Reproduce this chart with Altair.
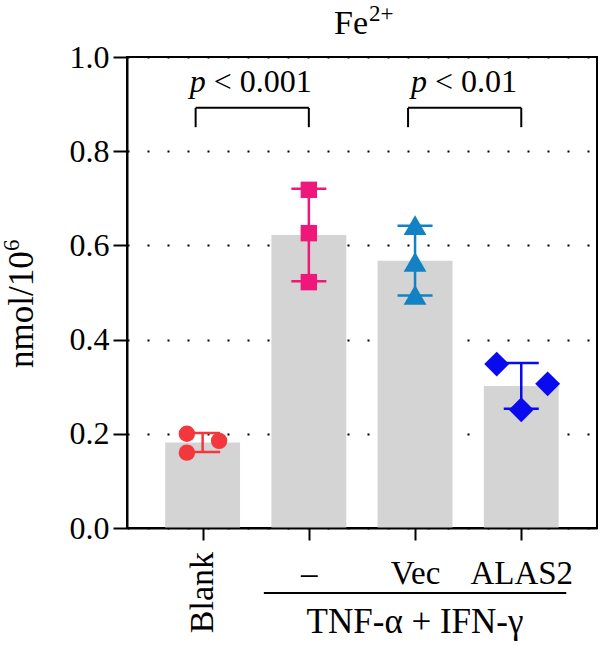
import json
import altair as alt
import pandas as pd

# Groups on the x axis and the three replicate measurements of each
groups = ["Blank", "–", "Vec", "ALAS2"]
values_blank = [0.200, 0.185, 0.160]
values_tnf = [0.718, 0.626, 0.522]
values_vec = [0.643, 0.565, 0.495]
values_alas2 = [0.348, 0.306, 0.251]

# Horizontal scatter of the replicate points inside a bar (-1..1 = bar edges)
jitter_blank = [-0.43, 0.45, -0.43]
jitter_tnf = [0.0, 0.0, 0.0]
jitter_vec = [0.0, 0.0, 0.0]
jitter_alas2 = [-0.67, 0.72, 0.0]

# Marker styling per group
colors = ["#F2383D", "#F0177A", "#1282C4", "#0A0AEE"]
shapes = ["circle", "square", "triangle-up", "diamond"]
sizes = [270, 270, 520, 620]

# Significance brackets
bracket_left = ["Blank", "Vec"]
bracket_right = ["–", "ALAS2"]
bracket_text = ["< 0.001", "< 0.01"]
bracket_top = 0.892
bracket_leg = 0.851
bracket_text_y = 0.925

FONT = "Liberation Serif"
FS = 32
BAR_FRAC = 0.69          # bar width as a fraction of the category step
STEP_PX = 108.5          # category step in pixels (470 px wide plot)

rows = []
for g, vals, jit in zip(groups,
                        [values_blank, values_tnf, values_vec, values_alas2],
                        [jitter_blank, jitter_tnf, jitter_vec, jitter_alas2]):
    for v, j in zip(vals, jit):
        rows.append({"group": g, "value": v, "jitter": j})
points = pd.DataFrame(rows)

groups_js = json.dumps(groups, ensure_ascii=False)
idx_expr = f"indexof({groups_js}, datum.group)"

x_scale = alt.Scale(domain=[-0.665, 3.666], nice=False, zero=False)
y_scale = alt.Scale(domain=[0, 1], nice=False)
color_enc = alt.Color("group:N", scale=alt.Scale(domain=groups, range=colors), legend=None)

x_axis = alt.Axis(
    title=None, values=[0, 1, 2, 3], labelAngle=0, labelFontSize=33, labelPadding=17,
    tickSize=12, grid=False, zindex=1,
    labelExpr=f"datum.value == 0 ? '' : {groups_js}[datum.value]",
)
y_axis = alt.Axis(
    title=None, values=[0, 0.2, 0.4, 0.6, 0.8, 1.0], format=".1f",
    tickSize=14, labelPadding=4, labelFontSize=FS,
    grid=True, gridColor="black", gridDash=[2, 18], gridWidth=2.2,
)

base = alt.Chart(points).transform_calculate(idx=idx_expr)

bars = base.mark_bar(color="#D4D4D4", width=BAR_FRAC * STEP_PX).encode(
    x=alt.X("idx:Q", scale=x_scale, axis=x_axis),
    y=alt.Y("mean(value):Q", scale=y_scale, axis=y_axis),
)

stats = base.transform_aggregate(
    mean="mean(value)", sd="stdev(value)", groupby=["group", "idx"]
).transform_calculate(
    lo="datum.mean - datum.sd", hi="datum.mean + datum.sd"
)

err_line = stats.mark_rule(strokeWidth=2.5).encode(
    x=alt.X("idx:Q", title=None),
    y=alt.Y("lo:Q", title=None),
    y2="hi:Q",
    color=color_enc,
)
cap_lo = stats.mark_tick(size=35, thickness=2.5, opacity=1, orient="horizontal").encode(
    x=alt.X("idx:Q", title=None),
    y=alt.Y("lo:Q", title=None),
    color=color_enc,
)
cap_hi = stats.mark_tick(size=35, thickness=2.5, opacity=1, orient="horizontal").encode(
    x=alt.X("idx:Q", title=None),
    y=alt.Y("hi:Q", title=None),
    color=color_enc,
)

# Replicate points, one layer per group so each keeps its own marker
dot_layers = []
for g, col, shp, sz in zip(groups, colors, shapes, sizes):
    dot_layers.append(
        base.transform_filter(alt.datum.group == g).transform_calculate(
            xpos=f"datum.idx + datum.jitter * {BAR_FRAC / 2}"
        ).mark_point(filled=True, opacity=1, strokeWidth=0, color=col, shape=shp, size=sz).encode(
            x=alt.X("xpos:Q", title=None),
            y=alt.Y("value:Q", title=None),
        )
    )

brackets = pd.DataFrame({
    "left": bracket_left, "right": bracket_right, "label": bracket_text,
    "top": [bracket_top] * 2, "leg": [bracket_leg] * 2, "ty": [bracket_text_y] * 2,
})
bc = alt.Chart(brackets).transform_calculate(
    li=f"indexof({groups_js}, datum.left)", ri=f"indexof({groups_js}, datum.right)"
)
br_h = bc.mark_rule(color="black", strokeWidth=2, xOffset=-7).encode(
    x=alt.X("li:Q", title=None), x2="ri:Q", y=alt.Y("top:Q", title=None)
)
br_l = bc.mark_rule(color="black", strokeWidth=2, xOffset=-7).encode(
    x=alt.X("li:Q", title=None), y=alt.Y("leg:Q", title=None), y2="top:Q"
)
br_r = bc.mark_rule(color="black", strokeWidth=2).encode(
    x=alt.X("ri:Q", title=None), y=alt.Y("leg:Q", title=None), y2="top:Q"
)

text_layers = []
for lbl, dx in zip(bracket_text, [11, 20]):
    sub = bc.transform_filter(alt.datum.label == lbl)
    text_layers.append(sub.mark_text(
        font=FONT, fontSize=FS, align="left", baseline="alphabetic", dx=dx, color="black"
    ).encode(x=alt.X("li:Q", title=None), y=alt.Y("ty:Q", title=None), text="label:N"))
    text_layers.append(sub.mark_text(
        font=FONT, fontSize=FS, fontStyle="italic", align="right", baseline="alphabetic",
        dx=dx - 8, color="black"
    ).encode(x=alt.X("li:Q", title=None), y=alt.Y("ty:Q", title=None), text=alt.value("p")))

# Annotations: rotated "Blank" label, treatment line and label, titles
ann = alt.Chart(pd.DataFrame({"k": [0]}))
blank_lbl = ann.mark_text(font=FONT, fontSize=34, angle=270, align="right",
                          baseline="middle", color="black").encode(
    x=alt.datum(0), y=alt.value(495), text=alt.value("Blank"))
treat_line = ann.mark_rule(color="black", strokeWidth=2, xOffset=-45, x2Offset=45).encode(
    x=alt.datum(1), x2=alt.datum(3), y=alt.value(536))
treat_lbl = ann.mark_text(font=FONT, fontSize=35, baseline="alphabetic", color="black").encode(
    x=alt.datum(2), y=alt.value(576), text=alt.value("TNF-α + IFN-γ"))
title_main = ann.mark_text(font=FONT, fontSize=34, align="right", baseline="alphabetic",
                           color="black").encode(
    x=alt.value(241), y=alt.value(-23), text=alt.value("Fe"))
title_sup = ann.mark_text(font=FONT, fontSize=23, align="left", baseline="alphabetic",
                          color="black").encode(
    x=alt.value(242), y=alt.value(-36), text=alt.value("2+"))
ytitle_main = ann.mark_text(font=FONT, fontSize=35, angle=270, align="left",
                            baseline="alphabetic", color="black").encode(
    x=alt.value(-94), y=alt.value(311), text=alt.value("nmol/10"))
ytitle_sup = ann.mark_text(font=FONT, fontSize=23, angle=270, align="left",
                           baseline="alphabetic", color="black").encode(
    x=alt.value(-108), y=alt.value(194), text=alt.value("6"))

chart = alt.layer(
    bars, err_line, cap_lo, cap_hi, *dot_layers, br_h, br_l, br_r, *text_layers,
    blank_lbl, treat_line, treat_lbl, title_main, title_sup, ytitle_main, ytitle_sup,
).properties(
    width=470, height=471,
    autosize=alt.AutoSizeParams(type="none"),
    padding={"left": 127, "top": 57, "right": 3, "bottom": 117},
).configure_view(
    stroke="black", strokeWidth=2
).configure_axis(
    labelFont=FONT, labelColor="black", tickColor="black", domainColor="black",
    domainWidth=2, tickWidth=2,
)

chart.save("out.html", embed_options={"renderer": "svg", "actions": False})
